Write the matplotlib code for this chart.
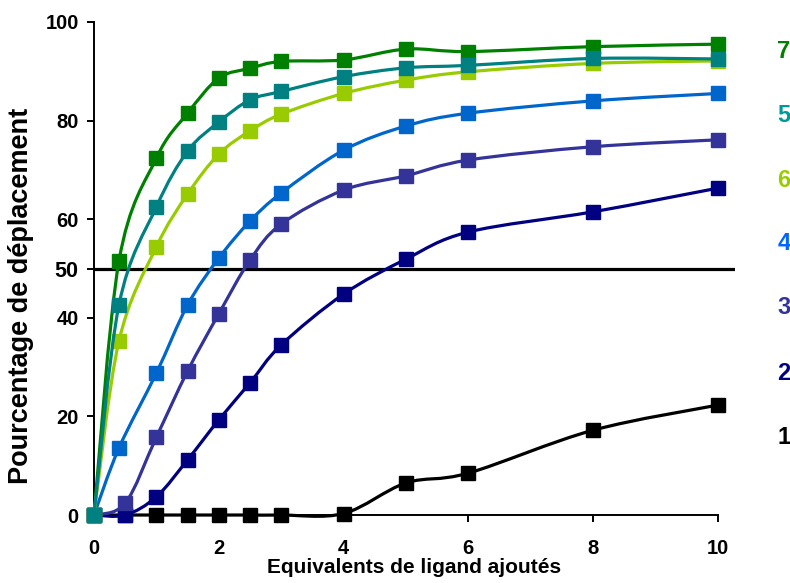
import matplotlib
matplotlib.use("Agg")
import matplotlib.pyplot as plt
import numpy as np
from matplotlib.path import Path
from matplotlib.patches import PathPatch

plt.rcParams["font.family"] = ["Liberation Sans", "DejaVu Sans"]
plt.rcParams["font.weight"] = "bold"

# equivalents of ligand added
x_a = [0, 0.4, 1, 1.5, 2, 2.5, 3, 4, 5, 6, 8, 10]   # series 7, 5, 6, 4
x_b = [0, 0.5, 1, 1.5, 2, 2.5, 3, 4, 5, 6, 8, 10]   # series 3, 2, 1

s7 = [0, 51.5, 72.4, 81.5, 88.6, 90.6, 92.0, 92.3, 94.5, 94.0, 95.0, 95.5]
s5 = [0, 42.6, 62.5, 73.8, 79.7, 84.2, 85.9, 88.9, 90.7, 91.2, 92.6, 92.5]
s6 = [0, 35.3, 54.4, 65.1, 73.2, 77.9, 81.3, 85.5, 88.2, 89.9, 91.6, 92.1]
s4 = [0, 13.6, 28.8, 42.6, 52.1, 59.6, 65.3, 74.0, 78.9, 81.5, 84.0, 85.5]
s3 = [0, 2.4, 15.8, 29.2, 40.8, 51.7, 59.0, 65.9, 68.8, 72.0, 74.7, 76.1]
s2 = [0, 0, 3.7, 11.2, 19.3, 26.8, 34.5, 44.8, 51.9, 57.4, 61.5, 66.3]
s1 = [0, 0, 0, 0, 0, 0, 0, 0.3, 6.5, 8.5, 17.2, 22.3]

names = ["1", "2", "3", "4", "7", "6", "5"]
xs = [x_b, x_b, x_b, x_a, x_a, x_a, x_a]
ys = [s1, s2, s3, s4, s7, s6, s5]
colors = ["#000000", "#000080", "#333399", "#0066CC", "#008000", "#99CC00", "#008080"]

# labels on the right, top to bottom
label_names = ["7", "5", "6", "4", "3", "2", "1"]
label_colors = ["#008000", "#009999", "#99CC00", "#0066FF", "#333399", "#000080", "#000000"]
label_y = [94.1, 81.1, 67.9, 55.0, 42.0, 28.8, 15.8]

threshold = 50


def smooth_path(x, y):
    # Bezier curve through the points (like a spreadsheet "smoothed line")
    p = np.column_stack([x, y]).astype(float)
    n = len(p)
    verts = [p[0]]
    codes = [Path.MOVETO]
    for i in range(n - 1):
        p0 = p[i - 1] if i > 0 else p[i]
        p3 = p[i + 2] if i + 2 < n else p[i + 1]
        c1 = p[i] + (p[i + 1] - p0) / 6
        c2 = p[i + 1] - (p3 - p[i]) / 6
        verts += [c1, c2, p[i + 1]]
        codes += [Path.CURVE4] * 3
    return Path(verts, codes)


fig = plt.figure(figsize=(7.9, 5.83), dpi=100)
ax = fig.add_axes([0.119, 0.1166, 0.811, 0.8457])

ax.axhline(threshold, color="black", linewidth=2.3, zorder=1)

for i, (x, y, c) in enumerate(zip(xs, ys, colors)):
    patch = PathPatch(smooth_path(x, y), facecolor="none", edgecolor=c,
                      linewidth=2.3, clip_on=False, zorder=2 + i)
    ax.add_patch(patch)
    ax.plot(x, y, linestyle="none", marker="s", markersize=10, color=c,
            clip_on=False, zorder=2 + i)

for name, c, yy in zip(label_names, label_colors, label_y):
    ax.text(11.06, yy, name, color=c, fontsize=17, fontweight="bold",
            ha="center", va="center", clip_on=False)

ax.set_xlim(0, 10.27)
ax.set_ylim(0, 100)
ax.spines["top"].set_visible(False)
ax.spines["right"].set_visible(False)
ax.spines["bottom"].set_bounds(0, 10)
ax.spines["left"].set_linewidth(1.4)
ax.spines["bottom"].set_linewidth(1.4)

ax.set_xticks([0, 2, 4, 6, 8, 10])
ax.set_yticks([0, 20, 40, 50, 60, 80, 100])
ax.tick_params(axis="x", length=5, width=1.4, pad=12, labelsize=14.5)
ax.tick_params(axis="y", length=5, width=1.4, pad=6, labelsize=14.5)
for lab in ax.get_yticklabels():
    if lab.get_text() == "50":
        lab.set_fontsize(15.5)

ax.set_xlabel("Equivalents de ligand ajoutés", fontsize=15, fontweight="bold", labelpad=0)
ax.set_ylabel("Pourcentage de déplacement", fontsize=19.5, fontweight="bold", labelpad=8)
ax.yaxis.label.set_y(0.444)

fig.savefig("out.png", dpi=100)
